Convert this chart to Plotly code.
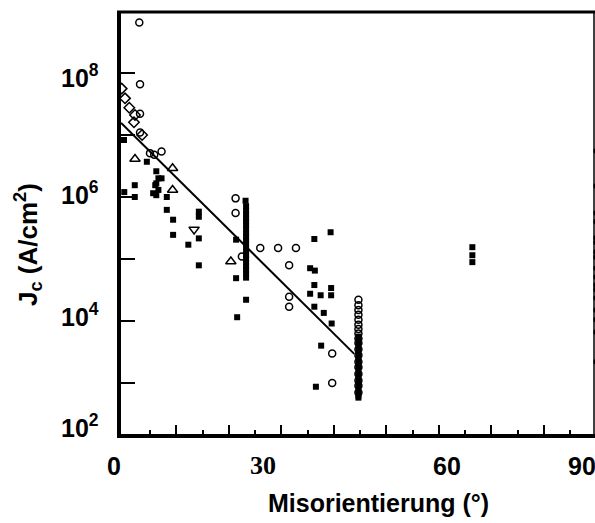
import plotly.graph_objects as go

# ---------------- data ----------------
# open circles
circ_x = [2.96, 3.1, 3.1, 3.1, 5.0, 5.8, 7.2, 21.3, 21.3, 22.5, 26.0, 29.4, 32.8,
          31.5, 31.5, 31.5, 39.7, 39.7,
          44.7, 44.7, 44.7, 44.7, 44.7, 44.7, 44.7, 44.7, 44.7, 44.7, 44.7, 44.7,
          44.7, 44.7, 44.7, 44.7, 44.7, 44.7]
circ_y = [6.5e8, 6.6e7, 2.2e7, 1.1e7, 5.1e6, 4.8e6, 5.4e6, 9.5e5, 5.5e5, 1.1e5, 1.5e5, 1.5e5, 1.5e5,
          7.9e4, 2.45e4, 1.7e4, 3.0e3, 1.0e3,
          2.2e4, 1.8e4, 1.5e4, 1.26e4, 1.05e4, 8.7e3, 7.4e3, 6.3e3, 5.2e3, 4.4e3, 3.5e3, 2.8e3,
          2.2e3, 1.8e3, 1.4e3, 1.1e3, 9.0e2, 7.0e2]

# open diamonds
dia_x = [-0.4, 0.24, 1.06, 2.14, 1.95, 3.5]
dia_y = [5.6e7, 3.9e7, 2.75e7, 2.1e7, 1.6e7, 1.0e7]

# open triangles (up)
tri_x = [2.14, 9.3, 9.3, 20.4]
tri_y = [4.1e6, 2.9e6, 1.3e6, 9.1e4]

# open triangle (down)
trid_x = [13.4]
trid_y = [3.0e5]

# filled squares
sq_x = [0.05, 4.4, 6.2, 6.6, 7.2, 6.0, 5.6, 6.2, 6.6, 6.2, 0.1, 2.1, 2.1, 8.2, 8.2, 9.4, 9.4,
        14.3, 14.3, 14.3, 12.3, 14.3, 23.2,
        23.3, 23.3, 23.3, 23.3, 23.3, 23.3, 23.3, 23.3, 23.3, 23.3, 23.3, 23.3, 23.3, 23.3,
        23.3, 23.3, 23.3, 23.3, 23.3, 23.3,
        21.4, 21.4, 23.3, 21.6, 36.3, 39.4, 35.5, 36.4, 36.3, 35.5, 37.5, 39.5, 39.5, 36.3,
        38.1, 39.6, 37.6, 36.6,
        66.4, 66.4, 66.4,
        44.7, 44.7, 44.7, 44.7, 44.7, 44.7, 44.7, 44.7, 44.7, 44.7, 44.7, 44.7, 44.7, 44.7]
sq_y = [8.3e6, 3.7e6, 2.6e6, 2.0e6, 2.0e6, 1.55e6, 1.15e6, 1.66e6, 1.3e6, 1.07e6, 1.2e6, 1.55e6,
        1.0e6, 1.0e6, 6.2e5, 4.3e5, 2.45e5,
        5.8e5, 4.8e5, 2.15e5, 1.7e5, 7.9e4, 8.7e5,
        7.1e5, 6.0e5, 5.2e5, 4.6e5, 4.0e5, 3.5e5, 3.0e5, 2.6e5, 2.3e5, 2.0e5, 1.74e5, 1.5e5,
        1.3e5, 1.15e5, 1.0e5, 8.7e4, 7.6e4, 6.6e4, 5.8e4, 5.0e4,
        2.05e5, 4.9e4, 2.2e4, 1.15e4, 2.1e5, 2.7e5, 7.1e4, 6.5e4, 3.8e4, 2.75e4, 2.6e4, 3.4e4,
        2.6e4, 1.7e4, 1.35e4, 9.1e3, 4.0e3, 8.7e2,
        1.55e5, 1.15e5, 8.9e4,
        5.6e3, 4.8e3, 4.0e3, 3.3e3, 2.75e3, 2.3e3, 1.9e3, 1.6e3, 1.3e3, 1.1e3, 9.1e2, 7.6e2,
        6.3e2, 5.8e2]

# small dots at 90 degrees
dot_x = [90] * 17
dot_y = [5.5e6, 1.5e6, 5.5e5, 4.0e5, 2.2e5, 1.85e5, 1.3e5, 1.07e5, 7.1e4, 5.1e4, 3.8e4,
         3.2e4, 2.35e4, 1.5e4, 1.05e4, 6.6e3, 2.2e3]

# fit line
fit_x = [-0.5, 43.9]
fit_y = [1.57e7, 2.95e3]

# tick labels (as placed in the original picture)
xlab_text = ["0", "30", "60", "90"]
ylab_text = ["10<sup>8</sup>", "10<sup>6</sup>", "10<sup>4</sup>", "10<sup>2</sup>"]

# ---------------- layout geometry ----------------
W, H = 595, 523
L, R, T, B = 121, 0, 12, 89
PW, PH = W - L - R, H - T - B


def px(x):
    return (x - L) / PW


def py(y):
    return (H - B - y) / PH


SANS = "Liberation Sans, Arial, sans-serif"
SERIF = "Liberation Serif, Times New Roman, serif"

fig = go.Figure()
fig.add_trace(go.Scatter(x=fit_x, y=fit_y, mode="lines",
                         line=dict(color="black", width=2), showlegend=False, hoverinfo="skip"))
fig.add_trace(go.Scatter(x=sq_x, y=sq_y, mode="markers",
                         marker=dict(symbol="square", size=6, color="black"), showlegend=False))
fig.add_trace(go.Scatter(x=circ_x, y=circ_y, mode="markers",
                         marker=dict(symbol="circle-open", size=7, color="black",
                                     line=dict(width=1.5)), showlegend=False))
fig.add_trace(go.Scatter(x=dia_x, y=dia_y, mode="markers",
                         marker=dict(symbol="diamond-open", size=8, color="black",
                                     line=dict(width=1.5)), showlegend=False))
fig.add_trace(go.Scatter(x=tri_x, y=tri_y, mode="markers",
                         marker=dict(symbol="triangle-up-open", size=9, color="black",
                                     line=dict(width=1.5)), showlegend=False))
fig.add_trace(go.Scatter(x=trid_x, y=trid_y, mode="markers",
                         marker=dict(symbol="triangle-down-open", size=9, color="black",
                                     line=dict(width=1.5)), showlegend=False))
fig.add_trace(go.Scatter(x=dot_x, y=dot_y, mode="markers",
                         marker=dict(symbol="circle", size=6, color="black"), showlegend=False))

fig.update_xaxes(range=[-0.524, 89.76], showline=True, linewidth=4, linecolor="black",
                 showgrid=False, zeroline=False, ticks="inside",
                 tickvals=[10, 20, 30, 40, 50, 60, 70, 80], ticklen=9, tickwidth=2,
                 tickcolor="black", showticklabels=False,
                 minor=dict(tickvals=[5, 15, 25, 35, 45, 55, 65, 75, 85], ticks="inside",
                            ticklen=4, tickwidth=2, tickcolor="black"))
fig.update_yaxes(type="log", range=[2.177, 8.984], showline=True, linewidth=4,
                 linecolor="black", showgrid=False, zeroline=False, ticks="inside",
                 tickvals=[1e3, 1e4, 1e5, 1e6, 1e7, 1e8], ticklen=14, tickwidth=2,
                 tickcolor="black", showticklabels=False)

shapes = [
    dict(type="line", xref="paper", yref="paper", x0=px(117), x1=px(595), y0=1, y1=1,
         line=dict(color="black", width=3)),
    dict(type="line", xref="paper", yref="paper", x0=px(594), x1=px(594), y0=py(436), y1=1,
         line=dict(color="black", width=1.5)),
]

ann = []
ylab_pos = [76, 193, 315, 426]
for t, yy in zip(ylab_text, ylab_pos):
    ann.append(dict(text=t, xref="paper", yref="paper", x=px(101), y=py(yy),
                    xanchor="right", yanchor="middle", showarrow=False,
                    font=dict(family=SANS, size=25, color="black", weight="bold")))
xlab_pos = [114, 263, 447, 582]
xlab_font = [SANS, SERIF, SANS, SANS]
for t, xx, f in zip(xlab_text, xlab_pos, xlab_font):
    ann.append(dict(text=t, xref="paper", yref="paper", x=px(xx), y=py(466),
                    xanchor="center", yanchor="middle", showarrow=False,
                    font=dict(family=f, size=26 if f == SERIF else 25, color="black",
                              weight="bold")))
ann.append(dict(text="Misorientierung (°)", xref="paper", yref="paper", x=px(378), y=py(503),
                xanchor="center", yanchor="middle", showarrow=False,
                font=dict(family=SANS, size=25, color="black", weight="bold")))
ann.append(dict(text="J<sub>c</sub> (A/cm<sup>2</sup>)", xref="paper", yref="paper",
                x=px(28), y=py(245), xanchor="center", yanchor="middle", textangle=-90,
                showarrow=False, font=dict(family=SANS, size=26, color="black", weight="bold")))

fig.update_layout(width=W, height=H, margin=dict(l=L, r=R, t=T, b=B, pad=0),
                  plot_bgcolor="white", paper_bgcolor="white",
                  shapes=shapes, annotations=ann, showlegend=False)

fig.write_html("out.html")
